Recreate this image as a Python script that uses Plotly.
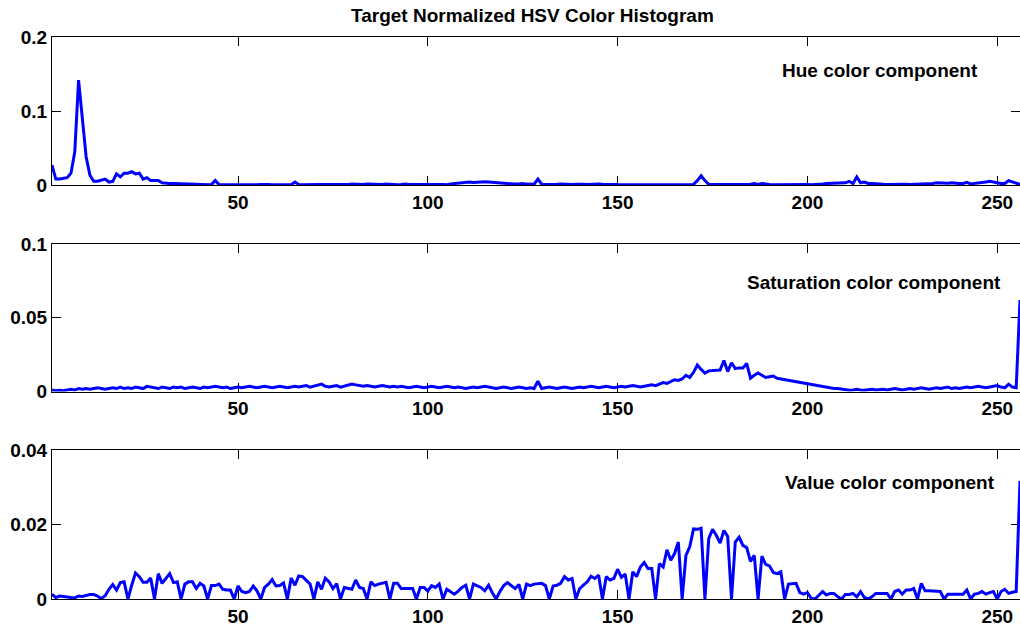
import plotly.graph_objects as go
from plotly.subplots import make_subplots

bins = list(range(1, 257))

hue = [
    0.027, 0.008, 0.008, 0.009, 0.010, 0.016, 0.045, 0.142, 0.085, 0.038,
    0.013, 0.005, 0.005, 0.007, 0.008, 0.004, 0.005, 0.015, 0.011, 0.016,
    0.016, 0.018, 0.015, 0.016, 0.008, 0.010, 0.006, 0.006, 0.006, 0.003,
    0.002, 0.002, 0.002, 0.002, 0.002, 0.002, 0.002, 0.0015, 0.001, 0.0008,
    0.0005, 0.0004, 0.0005, 0.006, 0.0005, 0.0005, 0.0004, 0.0006, 0.0005, 0.0004,
    0.0005, 0.0006, 0.0008, 0.0006, 0.0005, 0.0008, 0.0012, 0.0006, 0.0005, 0.0005,
    0.0004, 0.0005, 0.0006, 0.0005, 0.004, 0.0008, 0.0005, 0.0008, 0.0006, 0.0012,
    0.0008, 0.0006, 0.0005, 0.0008, 0.0012, 0.0006, 0.0005, 0.0004, 0.0008, 0.0012,
    0.0008, 0.0005, 0.0006, 0.0012, 0.0008, 0.0005, 0.0004, 0.0006, 0.0012, 0.0008,
    0.0006, 0.0005, 0.0008, 0.0015, 0.0008, 0.0005, 0.0004, 0.0006, 0.0008, 0.0005,
    0.0005, 0.0004, 0.0006, 0.0008, 0.0005, 0.0015, 0.002, 0.003, 0.0025, 0.0035,
    0.004, 0.0035, 0.004, 0.005, 0.0045, 0.004, 0.0035, 0.003, 0.0025, 0.002,
    0.002, 0.0015, 0.0012, 0.0015, 0.002, 0.0012, 0.0008, 0.001, 0.008, 0.001,
    0.0008, 0.0006, 0.0008, 0.001, 0.0015, 0.001, 0.0008, 0.0006, 0.001, 0.0015,
    0.001, 0.0006, 0.001, 0.0008, 0.0015, 0.001, 0.0006, 0.0005, 0.0008, 0.0006,
    0.0005, 0.0005, 0.0006, 0.0005, 0.0004, 0.0005, 0.0006, 0.0005, 0.0004, 0.0005,
    0.0005, 0.0004, 0.0005, 0.0006, 0.0005, 0.0004, 0.0005, 0.0005, 0.0006, 0.0008,
    0.006, 0.0125, 0.006, 0.001, 0.0008, 0.0006, 0.0008, 0.0006, 0.0005, 0.0006,
    0.0008, 0.0006, 0.0005, 0.0008, 0.001, 0.002, 0.0008, 0.002, 0.0008, 0.0006,
    0.0005, 0.0006, 0.0008, 0.0006, 0.0005, 0.0006, 0.0008, 0.0006, 0.0005, 0.0006,
    0.0005, 0.0006, 0.0008, 0.0015, 0.002, 0.002, 0.0025, 0.0025, 0.003, 0.003,
    0.005, 0.002, 0.011, 0.003, 0.004, 0.002, 0.002, 0.002, 0.001, 0.001,
    0.0008, 0.001, 0.0008, 0.001, 0.0012, 0.001, 0.0008, 0.001, 0.0012, 0.001,
    0.001, 0.001, 0.002, 0.003, 0.0025, 0.002, 0.0025, 0.003, 0.002, 0.002,
    0.002, 0.0035, 0.0015, 0.002, 0.002, 0.003, 0.004, 0.005, 0.0045, 0.003,
    0.002, 0.002, 0.006, 0.004, 0.003, 0.0008,
]

saturation = [
    0.001, 0.0005, 0.0008, 0.0005, 0.001, 0.0015, 0.001, 0.002, 0.0015, 0.002,
    0.0015, 0.002, 0.0025, 0.002, 0.0015, 0.002, 0.0025, 0.002, 0.003, 0.002,
    0.0025, 0.002, 0.003, 0.0025, 0.002, 0.0035, 0.003, 0.0025, 0.002, 0.003,
    0.0025, 0.002, 0.003, 0.0025, 0.003, 0.002, 0.0025, 0.003, 0.0025, 0.002,
    0.003, 0.0025, 0.003, 0.0035, 0.003, 0.0025, 0.003, 0.002, 0.0025, 0.003,
    0.0025, 0.003, 0.0035, 0.003, 0.0025, 0.003, 0.0035, 0.003, 0.0025, 0.003,
    0.0035, 0.003, 0.0025, 0.003, 0.0035, 0.003, 0.0035, 0.004, 0.003, 0.0035,
    0.004, 0.005, 0.0035, 0.003, 0.0035, 0.004, 0.003, 0.0035, 0.004, 0.005,
    0.0045, 0.004, 0.0035, 0.004, 0.0035, 0.003, 0.0035, 0.004, 0.0035, 0.003,
    0.0035, 0.003, 0.0035, 0.003, 0.0025, 0.003, 0.0035, 0.003, 0.0025, 0.003,
    0.0035, 0.003, 0.0025, 0.003, 0.0035, 0.003, 0.0025, 0.003, 0.0025, 0.002,
    0.0025, 0.003, 0.0025, 0.003, 0.0035, 0.003, 0.0025, 0.002, 0.0025, 0.003,
    0.0025, 0.002, 0.0025, 0.003, 0.0025, 0.002, 0.0025, 0.002, 0.007, 0.002,
    0.0025, 0.003, 0.0025, 0.002, 0.0025, 0.003, 0.0025, 0.002, 0.0025, 0.003,
    0.0025, 0.003, 0.0035, 0.003, 0.0025, 0.003, 0.0035, 0.003, 0.0025, 0.003,
    0.0035, 0.003, 0.0035, 0.004, 0.0035, 0.003, 0.0035, 0.004, 0.0045, 0.004,
    0.005, 0.006, 0.0055, 0.007, 0.008, 0.0075, 0.0085, 0.011, 0.0095, 0.013,
    0.018, 0.015, 0.0125, 0.014, 0.014, 0.014, 0.0145, 0.021, 0.0135, 0.0195,
    0.0155, 0.016, 0.016, 0.019, 0.009, 0.011, 0.0125, 0.011, 0.0095, 0.010,
    0.0105, 0.009, 0.0085, 0.008, 0.0075, 0.007, 0.0065, 0.006, 0.0055, 0.005,
    0.0045, 0.004, 0.0035, 0.003, 0.0025, 0.0025, 0.002, 0.002, 0.0015, 0.001,
    0.0008, 0.001, 0.0015, 0.001, 0.0008, 0.0012, 0.0015, 0.001, 0.0012, 0.0015,
    0.001, 0.0015, 0.002, 0.0015, 0.001, 0.0015, 0.002, 0.0015, 0.002, 0.0025,
    0.002, 0.0015, 0.002, 0.0025, 0.002, 0.0025, 0.003, 0.002, 0.0025, 0.002,
    0.0025, 0.003, 0.0025, 0.003, 0.0035, 0.003, 0.0025, 0.003, 0.0035, 0.004,
    0.003, 0.0025, 0.005, 0.003, 0.0025, 0.062,
]

value = [
    0.0013, 0.0004, 0.0008, 0.0006, 0.0004, 0.0004, 0.0003, 0.0008, 0.0007, 0.001,
    0.0012, 0.0012, 0.0008, 0.0001, 0.0009, 0.0026, 0.0039, 0.0024, 0.0044, 0.0046,
    0.0, 0.0037, 0.007, 0.006, 0.0045, 0.0045, 0.0056, 0.0, 0.0068, 0.0042,
    0.0055, 0.0068, 0.0044, 0.0046, 0.0, 0.004, 0.0046, 0.0046, 0.0028, 0.0042,
    0.0035, 0.0, 0.0036, 0.0036, 0.004, 0.0026, 0.0024, 0.0024, 0.0, 0.0035,
    0.002, 0.0017, 0.002, 0.0035, 0.0022, 0.0, 0.0031, 0.004, 0.0052, 0.0035,
    0.0036, 0.0043, 0.0, 0.0056, 0.0037, 0.0062, 0.006, 0.0051, 0.004, 0.0,
    0.0046, 0.0026, 0.0056, 0.0046, 0.0028, 0.0041, 0.0, 0.0031, 0.0028, 0.0026,
    0.0051, 0.0031, 0.0028, 0.0, 0.0046, 0.0036, 0.004, 0.0042, 0.0045, 0.0,
    0.0042, 0.0042, 0.0028, 0.0028, 0.0028, 0.0028, 0.0, 0.0031, 0.0031, 0.0021,
    0.0036, 0.0031, 0.004, 0.0, 0.0026, 0.002, 0.0013, 0.0021, 0.0031, 0.0037,
    0.0, 0.004, 0.0035, 0.0031, 0.0022, 0.0037, 0.0017, 0.0, 0.002, 0.0036,
    0.0044, 0.0037, 0.0028, 0.0039, 0.0, 0.004, 0.0036, 0.004, 0.004, 0.0042,
    0.0036, 0.0, 0.0035, 0.0037, 0.0042, 0.006, 0.0051, 0.0055, 0.0, 0.0028,
    0.0037, 0.0046, 0.0061, 0.0055, 0.0064, 0.0, 0.006, 0.0051, 0.0055, 0.008,
    0.0058, 0.0067, 0.0, 0.0073, 0.006, 0.0086, 0.0098, 0.0082, 0.0082, 0.0,
    0.0095, 0.0086, 0.0132, 0.0104, 0.0122, 0.0153, 0.0, 0.0117, 0.014, 0.0188,
    0.0187, 0.019, 0.0, 0.0162, 0.0187, 0.0171, 0.015, 0.0184, 0.0168, 0.0,
    0.0153, 0.0166, 0.0144, 0.0138, 0.0101, 0.0117, 0.0, 0.0115, 0.0093, 0.0089,
    0.0071, 0.0068, 0.0073, 0.0, 0.004, 0.0042, 0.0042, 0.0017, 0.0013, 0.0017,
    0.0002, 0.0, 0.0011, 0.002, 0.0011, 0.0015, 0.0015, 0.0006, 0.0, 0.0012,
    0.0012, 0.0015, 0.0006, 0.002, 0.0004, 0.0, 0.0006, 0.0015, 0.0015, 0.0015,
    0.0015, 0.0, 0.002, 0.0024, 0.0013, 0.0024, 0.0024, 0.0028, 0.0, 0.0042,
    0.0022, 0.0022, 0.0022, 0.002, 0.002, 0.0, 0.0013, 0.0013, 0.0013, 0.0015,
    0.0013, 0.0024, 0.0, 0.0013, 0.0015, 0.002, 0.0013, 0.0017, 0.002, 0.0,
    0.002, 0.0026, 0.0015, 0.0018, 0.002, 0.0317,
]

x_ticks = [50, 100, 150, 200, 250]
x_ticktext = ["50", "100", "150", "200", "250"]
hue_yticks = [0, 0.1, 0.2]
sat_yticks = [0, 0.05, 0.1]
val_yticks = [0, 0.02, 0.04]

title_text = "Target Normalized HSV Color Histogram"
panel_labels = ["Hue color component", "Saturation color component", "Value color component"]

W, H = 1020, 626
FONT = "Liberation Sans, Arial, Helvetica, sans-serif"
BLUE = "#0000ff"

fig = make_subplots(rows=3, cols=1)

series = [hue, saturation, value]
yticks = [hue_yticks, sat_yticks, val_yticks]
# pixel positions of each panel (top, bottom)
panels_px = [(37.3, 185.0), (244.0, 391.5), (450.0, 599.0)]
label_px = [(780, 70), (745, 283), (783, 482)]

for i, (ys, yt) in enumerate(zip(series, yticks)):
    r = i + 1
    fig.add_trace(
        go.Scatter(x=bins, y=ys, mode="lines",
                   line=dict(color=BLUE, width=3), showlegend=False,
                   hoverinfo="skip"),
        row=r, col=1,
    )
    top, bot = panels_px[i]
    ax_suffix = "" if r == 1 else str(r)
    fig.layout["yaxis" + ax_suffix].update(
        domain=[1 - bot / H, 1 - top / H],
        range=[yt[0], yt[-1]],
        tickvals=yt, ticktext=[("%g" % v) for v in yt],
        ticks="inside", ticklen=9, tickwidth=1, tickcolor="black",
        showline=True, linecolor="black", linewidth=1, mirror="ticks",
        showgrid=False, zeroline=False, automargin=False,
        tickfont=dict(family=FONT, size=19, color="black", weight="bold"),
        layer="below traces",
    )
    fig.layout["xaxis" + ax_suffix].update(
        range=[1, 256],
        tickvals=x_ticks, ticktext=x_ticktext,
        ticks="inside", ticklen=9, tickwidth=1, tickcolor="black",
        showline=True, linecolor="black", linewidth=1, mirror="ticks",
        showgrid=False, zeroline=False, automargin=False,
        tickfont=dict(family=FONT, size=19, color="black", weight="bold"),
        layer="below traces",
    )
    lx, ly = label_px[i]
    fig.add_annotation(
        text=panel_labels[i], xref="paper", yref="paper",
        x=(lx - 52) / 968, y=1 - ly / H, xanchor="left", yanchor="middle",
        showarrow=False,
        font=dict(family=FONT, size=19, color="black", weight="bold"),
    )

fig.add_annotation(
    text=title_text, xref="paper", yref="paper",
    x=(532 - 52) / 968, y=1 - 15 / H, xanchor="center", yanchor="middle",
    showarrow=False,
    font=dict(family=FONT, size=19, color="black", weight="bold"),
)

fig.update_layout(
    width=W, height=H,
    margin=dict(l=52, r=0, t=0, b=0, pad=0),
    paper_bgcolor="white", plot_bgcolor="white",
)

fig.write_html("out.html")
